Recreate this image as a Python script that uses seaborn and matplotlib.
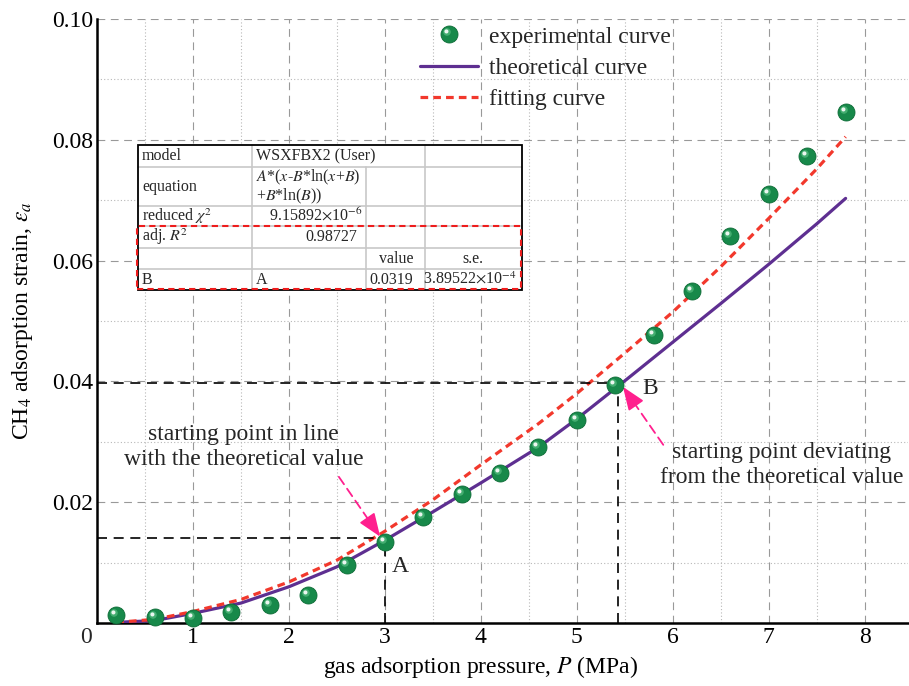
import matplotlib
matplotlib.use("Agg")
import matplotlib.pyplot as plt
import seaborn as sns
from matplotlib.path import Path
from matplotlib.markers import MarkerStyle
from matplotlib.lines import Line2D
from matplotlib.patches import Rectangle
from matplotlib.ticker import FixedLocator, MultipleLocator
from matplotlib.legend_handler import HandlerTuple

# ---- measured adsorption strain ----
pressure = [0.2, 0.6, 1.0, 1.4, 1.8, 2.2, 2.6, 3.0, 3.4, 3.8,
            4.2, 4.6, 5.0, 5.4, 5.8, 6.2, 6.6, 7.0, 7.4, 7.8]
strain_exp = [0.0014, 0.0010, 0.0009, 0.0019, 0.0030, 0.0047, 0.0096, 0.0134, 0.0175, 0.0214,
              0.0249, 0.0292, 0.0336, 0.0394, 0.0476, 0.0550, 0.0640, 0.0710, 0.0773, 0.0846]

# ---- theoretical and fitted curves ----
curve_p = [0.2, 0.6, 1.0, 1.5, 2.0, 2.5, 3.0, 3.5, 4.0, 4.6, 5.0, 5.5, 6.0, 6.5, 7.0, 7.5, 7.8]
theory_strain = [0.0001, 0.0004, 0.0016, 0.0033, 0.0060, 0.0093, 0.0137, 0.0184, 0.0232, 0.0291,
                 0.0338, 0.0401, 0.0465, 0.0529, 0.0594, 0.0661, 0.0703]
fit_strain = [0.0001, 0.0006, 0.0019, 0.0039, 0.0068, 0.0104, 0.0152, 0.0204, 0.0262, 0.0330,
              0.0380, 0.0447, 0.0515, 0.0590, 0.0670, 0.0752, 0.0805]

x_ticks = [1, 2, 3, 4, 5, 6, 7, 8]
y_ticks = [0.02, 0.04, 0.06, 0.08, 0.10]
y_tick_labels = ["0.02", "0.04", "0.06", "0.08", "0.10"]

# reference points A and B on the theoretical curve
point_a = (3.0, 0.0140)
point_b = (5.43, 0.0397)

# fit report table
table_rows = [
    ["model", "WSXFBX2 (User)", "", ""],
    ["equation", "$A$*($x$-$B$*ln($x$+$B$)\n+$B$*ln($B$))", "", ""],
    ["reduced $\\chi^2$", "9.15892$\\times$10$^{-6}$", "", ""],
    ["adj. $R^2$", "0.98727", "", ""],
    ["", "", "value", "s.e."],
    ["B", "A", "0.0319", "3.89522$\\times$10$^{-4}$"],
]

GREEN = "#17894a"
PURPLE = "#5e2f91"
RED = "#f2382c"
PINK = "#ff1f8e"

sns.set_theme(style="white")
plt.rcParams["font.family"] = ["Liberation Serif", "DejaVu Serif"]
plt.rcParams["mathtext.fontset"] = "stix"

W, H = 909, 686
fig = plt.figure(figsize=(W / 100, H / 100), dpi=100)
ax = fig.add_axes([97 / W, 1 - 623 / H, (908 - 97) / W, (623 - 19) / H])

FS = 17

# curves
sns.lineplot(x=curve_p, y=theory_strain, ax=ax, color=PURPLE, lw=2.3, zorder=3, legend=False)
sns.lineplot(x=curve_p, y=fit_strain, ax=ax, color=RED, lw=2.3, zorder=4,
             linestyle=(0, (2.4, 1.6)), legend=False)

# glossy sphere markers: base disc + offset highlight
ms = 150
hl_marker = MarkerStyle(Path.circle(center=(-0.3, 0.3), radius=0.2))
glow_marker = MarkerStyle(Path.circle(center=(-0.2, 0.2), radius=0.3))
sns.scatterplot(x=pressure, y=strain_exp, ax=ax, s=ms, color=GREEN, edgecolor="#0d6b36",
                linewidth=0.6, zorder=6, clip_on=False, legend=False)
ax.scatter(pressure, strain_exp, s=ms * 0.55, marker=glow_marker, color="#4fb77a",
           linewidths=0, zorder=7, clip_on=False, alpha=0.8)
ax.scatter(pressure, strain_exp, s=ms * 0.36, marker=hl_marker, color="white",
           linewidths=0, zorder=8, clip_on=False, alpha=0.9)

# axes styling
ax.set_xlim(0, 8.45)
ax.set_ylim(0, 0.10)
ax.xaxis.set_major_locator(FixedLocator(x_ticks))
ax.xaxis.set_minor_locator(MultipleLocator(0.5))
ax.set_yticks(y_ticks, y_tick_labels)
ax.yaxis.set_minor_locator(MultipleLocator(0.01))
ax.tick_params(which="both", direction="in", length=7, width=1.8, color="black",
               labelsize=FS, labelcolor="black")
ax.tick_params(axis="x", pad=3)
ax.tick_params(axis="y", pad=3)
for side in ["top", "right"]:
    ax.spines[side].set_visible(False)
for side in ["left", "bottom"]:
    ax.spines[side].set_color("black")
    ax.spines[side].set_linewidth(1.8)
ax.grid(which="major", color="#999999", lw=0.8, ls=(0, (7, 5)))
ax.grid(which="minor", color="#b8b8b8", lw=0.8, ls=(0, (1, 2)))
ax.set_axisbelow(True)

ax.annotate("0", xy=(0, 0), xycoords="axes fraction", xytext=(-5, -4),
            textcoords="offset pixels", ha="right", va="top", fontsize=FS)

ax.set_xlabel("gas adsorption pressure, $P$ (MPa)", fontsize=FS, color="black")
ax.set_ylabel("CH$_4$ adsorption strain, $\\varepsilon_a$", fontsize=FS, color="black")
ax.xaxis.set_label_coords(4 / 8.45, -0.052)
ax.yaxis.set_label_coords(-0.076, 0.5)

# guide lines to A and B
guide = dict(color="black", lw=1.2, ls=(0, (6, 4)), zorder=5)
ax.plot([0, point_a[0]], [point_a[1], point_a[1]], **guide)
ax.plot([point_a[0], point_a[0]], [0, point_a[1]], **guide)
ax.plot([0, point_b[0]], [point_b[1], point_b[1]], **guide)
ax.plot([point_b[0], point_b[0]], [0, point_b[1]], **guide)
ax.text(3.16, 0.0093, "A", fontsize=FS, ha="center", va="center")
ax.text(5.76, 0.0389, "B", fontsize=FS, ha="center", va="center")

# callouts with dashed arrows
def callout(start, tip):
    ax.annotate("", xy=tip, xytext=start,
                arrowprops=dict(arrowstyle="-", color=PINK, lw=1.3, ls=(0, (5, 3)),
                                shrinkA=0, shrinkB=6))
    ax.annotate("", xy=tip, xytext=(tip[0] + 0.15 * (start[0] - tip[0]),
                                    tip[1] + 0.15 * (start[1] - tip[1])),
                arrowprops=dict(arrowstyle="-|>,head_length=0.9,head_width=0.35",
                                color=PINK, lw=1.2, shrinkA=0, shrinkB=0,
                                mutation_scale=16))

callout((2.52, 0.0242), (2.95, 0.0143))
callout((5.90, 0.0295), (5.48, 0.0391))
ax.text(1.53, 0.0292, "starting point in line\nwith the theoretical value",
        fontsize=FS, ha="center", va="center", linespacing=1.26)
ax.text(7.135, 0.0262, "starting point deviating\nfrom the theoretical value",
        fontsize=FS, ha="center", va="center", linespacing=1.26)

# legend
h_exp = (Line2D([], [], ls="none", marker="o", ms=ms ** 0.5, mfc=GREEN, mec="#0d6b36", mew=0.6),
         Line2D([], [], ls="none", marker=glow_marker, ms=(ms * 0.55) ** 0.5, mfc="#4fb77a",
                mew=0, alpha=0.8),
         Line2D([], [], ls="none", marker=hl_marker, ms=(ms * 0.36) ** 0.5, mfc="white",
                mew=0, alpha=0.9))
h_th = Line2D([], [], color=PURPLE, lw=2.3)
h_fit = Line2D([], [], color=RED, lw=2.3, ls=(0, (2.4, 1.6)))
ax.legend([h_exp, h_th, h_fit], ["experimental curve", "theoretical curve", "fitting curve"],
          handler_map={tuple: HandlerTuple(ndivide=1)},
          loc="upper left", bbox_to_anchor=(420 / W, 1 - 26 / H), bbox_transform=fig.transFigure,
          frameon=False, fontsize=FS, handlelength=2.46, handletextpad=0.47,
          labelspacing=0.42, borderpad=0, borderaxespad=0)

# fit report table drawn in figure pixels
def fx(x):
    return x / W

def fy(y):
    return 1 - y / H

row_edges = [145, 167, 206, 226, 248, 269, 290]
col_edges = [138, 252, 366, 425, 522]
TFS = 11.5

fig.add_artist(Rectangle((fx(col_edges[0]), fy(row_edges[-1])),
                         fx(col_edges[-1]) - fx(col_edges[0]), fy(row_edges[0]) - fy(row_edges[-1]),
                         transform=fig.transFigure, facecolor="white", edgecolor="none", zorder=10))
gray = dict(color="#c8c8c8", lw=1.2, transform=fig.transFigure, zorder=11)
for y in row_edges[1:-1]:
    fig.add_artist(Line2D([fx(col_edges[0]), fx(col_edges[-1])], [fy(y), fy(y)], **gray))
fig.add_artist(Line2D([fx(252), fx(252)], [fy(145), fy(290)], **gray))
fig.add_artist(Line2D([fx(366), fx(366)], [fy(167), fy(290)], **gray))
fig.add_artist(Line2D([fx(425), fx(425)], [fy(145), fy(290)], **gray))
fig.add_artist(Rectangle((fx(col_edges[0]), fy(row_edges[-1])),
                         fx(col_edges[-1]) - fx(col_edges[0]), fy(row_edges[0]) - fy(row_edges[-1]),
                         transform=fig.transFigure, facecolor="none", edgecolor="black",
                         lw=1.3, zorder=12))
fig.add_artist(Rectangle((fx(137), fy(289)), fx(521) - fx(137), fy(226) - fy(289),
                         transform=fig.transFigure, facecolor="none", edgecolor="#ee1c1c",
                         lw=1.5, ls=(0, (3, 2)), zorder=13))

def cell_text(txt, x, row, ha="left"):
    yc = (row_edges[row] + row_edges[row + 1]) / 2
    fig.text(fx(x), fy(yc), txt, fontsize=TFS, ha=ha, va="center", zorder=14,
             linespacing=1.0)

cell_text(table_rows[0][0], 142, 0)
cell_text(table_rows[0][1], 256, 0)
cell_text(table_rows[1][0], 142, 1)
cell_text(table_rows[1][1], 256, 1)
cell_text(table_rows[2][0], 142, 2)
cell_text(table_rows[2][1], 362, 2, ha="right")
cell_text(table_rows[3][0], 142, 3)
cell_text(table_rows[3][1], 357, 3, ha="right")
cell_text(table_rows[4][2], 396, 4, ha="center")
cell_text(table_rows[4][3], 473, 4, ha="center")
cell_text(table_rows[5][0], 142, 5)
cell_text(table_rows[5][1], 256, 5)
cell_text(table_rows[5][2], 369, 5)
cell_text(table_rows[5][3], 470, 5, ha="center")

fig.savefig("out.png", dpi=100)
